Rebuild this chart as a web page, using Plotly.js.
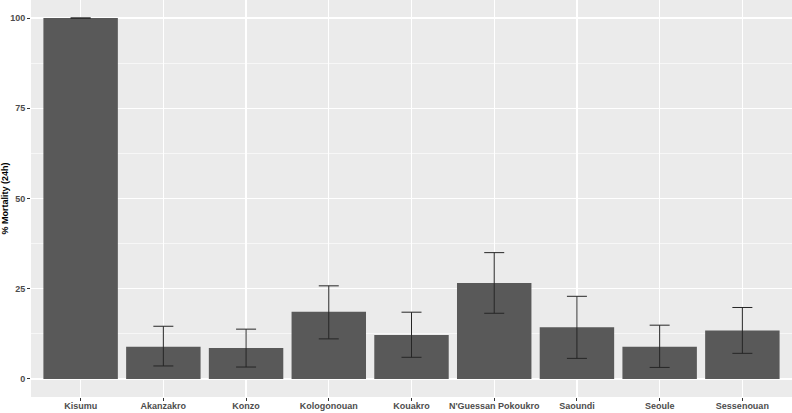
<!DOCTYPE html>
<html><head><meta charset="utf-8">
<script src="https://cdn.plot.ly/plotly-3.0.1.min.js"></script>
<style>html,body{margin:0;padding:0;background:#fff}#chart{width:792px;height:413px}</style>
</head><body><div id="chart"></div>
<script>
const sites = ["Kisumu","Akanzakro","Konzo","Kologonouan","Kouakro","N'Guessan Pokoukro","Saoundi","Seoule","Sessenouan"];
const mortality = [100, 8.9, 8.6, 18.6, 12.2, 26.6, 14.3, 8.95, 13.4];
const upper = [100, 14.6, 13.8, 25.8, 18.5, 35.0, 22.9, 14.9, 19.8];
const lower = [100, 3.6, 3.3, 11.1, 6.0, 18.2, 5.7, 3.2, 7.1];

const errPlus = mortality.map((v,i)=>upper[i]-v);
const errMinus = mortality.map((v,i)=>v-lower[i]);

const trace = {
  type:'bar', x: sites, y: mortality, width: 0.9,
  marker:{color:'#595959'},
  error_y:{type:'data', symmetric:false, array:errPlus, arrayminus:errMinus, color:'#262626', thickness:1, width:10},
  hoverinfo:'none'
};
const layout = {
  width:792, height:413,
  margin:{l:31, r:0, t:0, b:16},
  paper_bgcolor:'#ffffff', plot_bgcolor:'#EBEBEB',
  showlegend:false, bargap:0.1,
  xaxis:{range:[-0.6, 8.6], showgrid:true, gridcolor:'#ffffff', gridwidth:1.2,
    ticks:'outside', ticklen:3, tickcolor:'#333333', tickwidth:1, ticklabelstandoff:-3,
    tickfont:{family:'Liberation Sans, Arial, sans-serif', size:9, color:'#4D4D4D', weight:'bold'},
    zeroline:false, showline:false, fixedrange:true},
  yaxis:{range:[-5,105], tickvals:[0,25,50,75,100], ticktext:['0','25','50','75','100'],
    showgrid:true, gridcolor:'#ffffff', gridwidth:1.2,
    minor:{tickvals:[12.5,37.5,62.5,87.5], showgrid:true, gridcolor:'#ffffff', gridwidth:0.6, ticks:''},
    ticks:'outside', ticklen:3, tickcolor:'#333333', tickwidth:1,
    tickfont:{family:'Liberation Sans, Arial, sans-serif', size:9, color:'#4D4D4D', weight:'bold'},
    zeroline:false, showline:false,
    title:{text:'% Mortality (24h)', standoff:6, font:{family:'Liberation Sans, Arial, sans-serif', size:9, color:'#000000', weight:'bold'}}}
};
Plotly.newPlot('chart',[trace],layout,{displayModeBar:false,staticPlot:true});
</script></body></html>
